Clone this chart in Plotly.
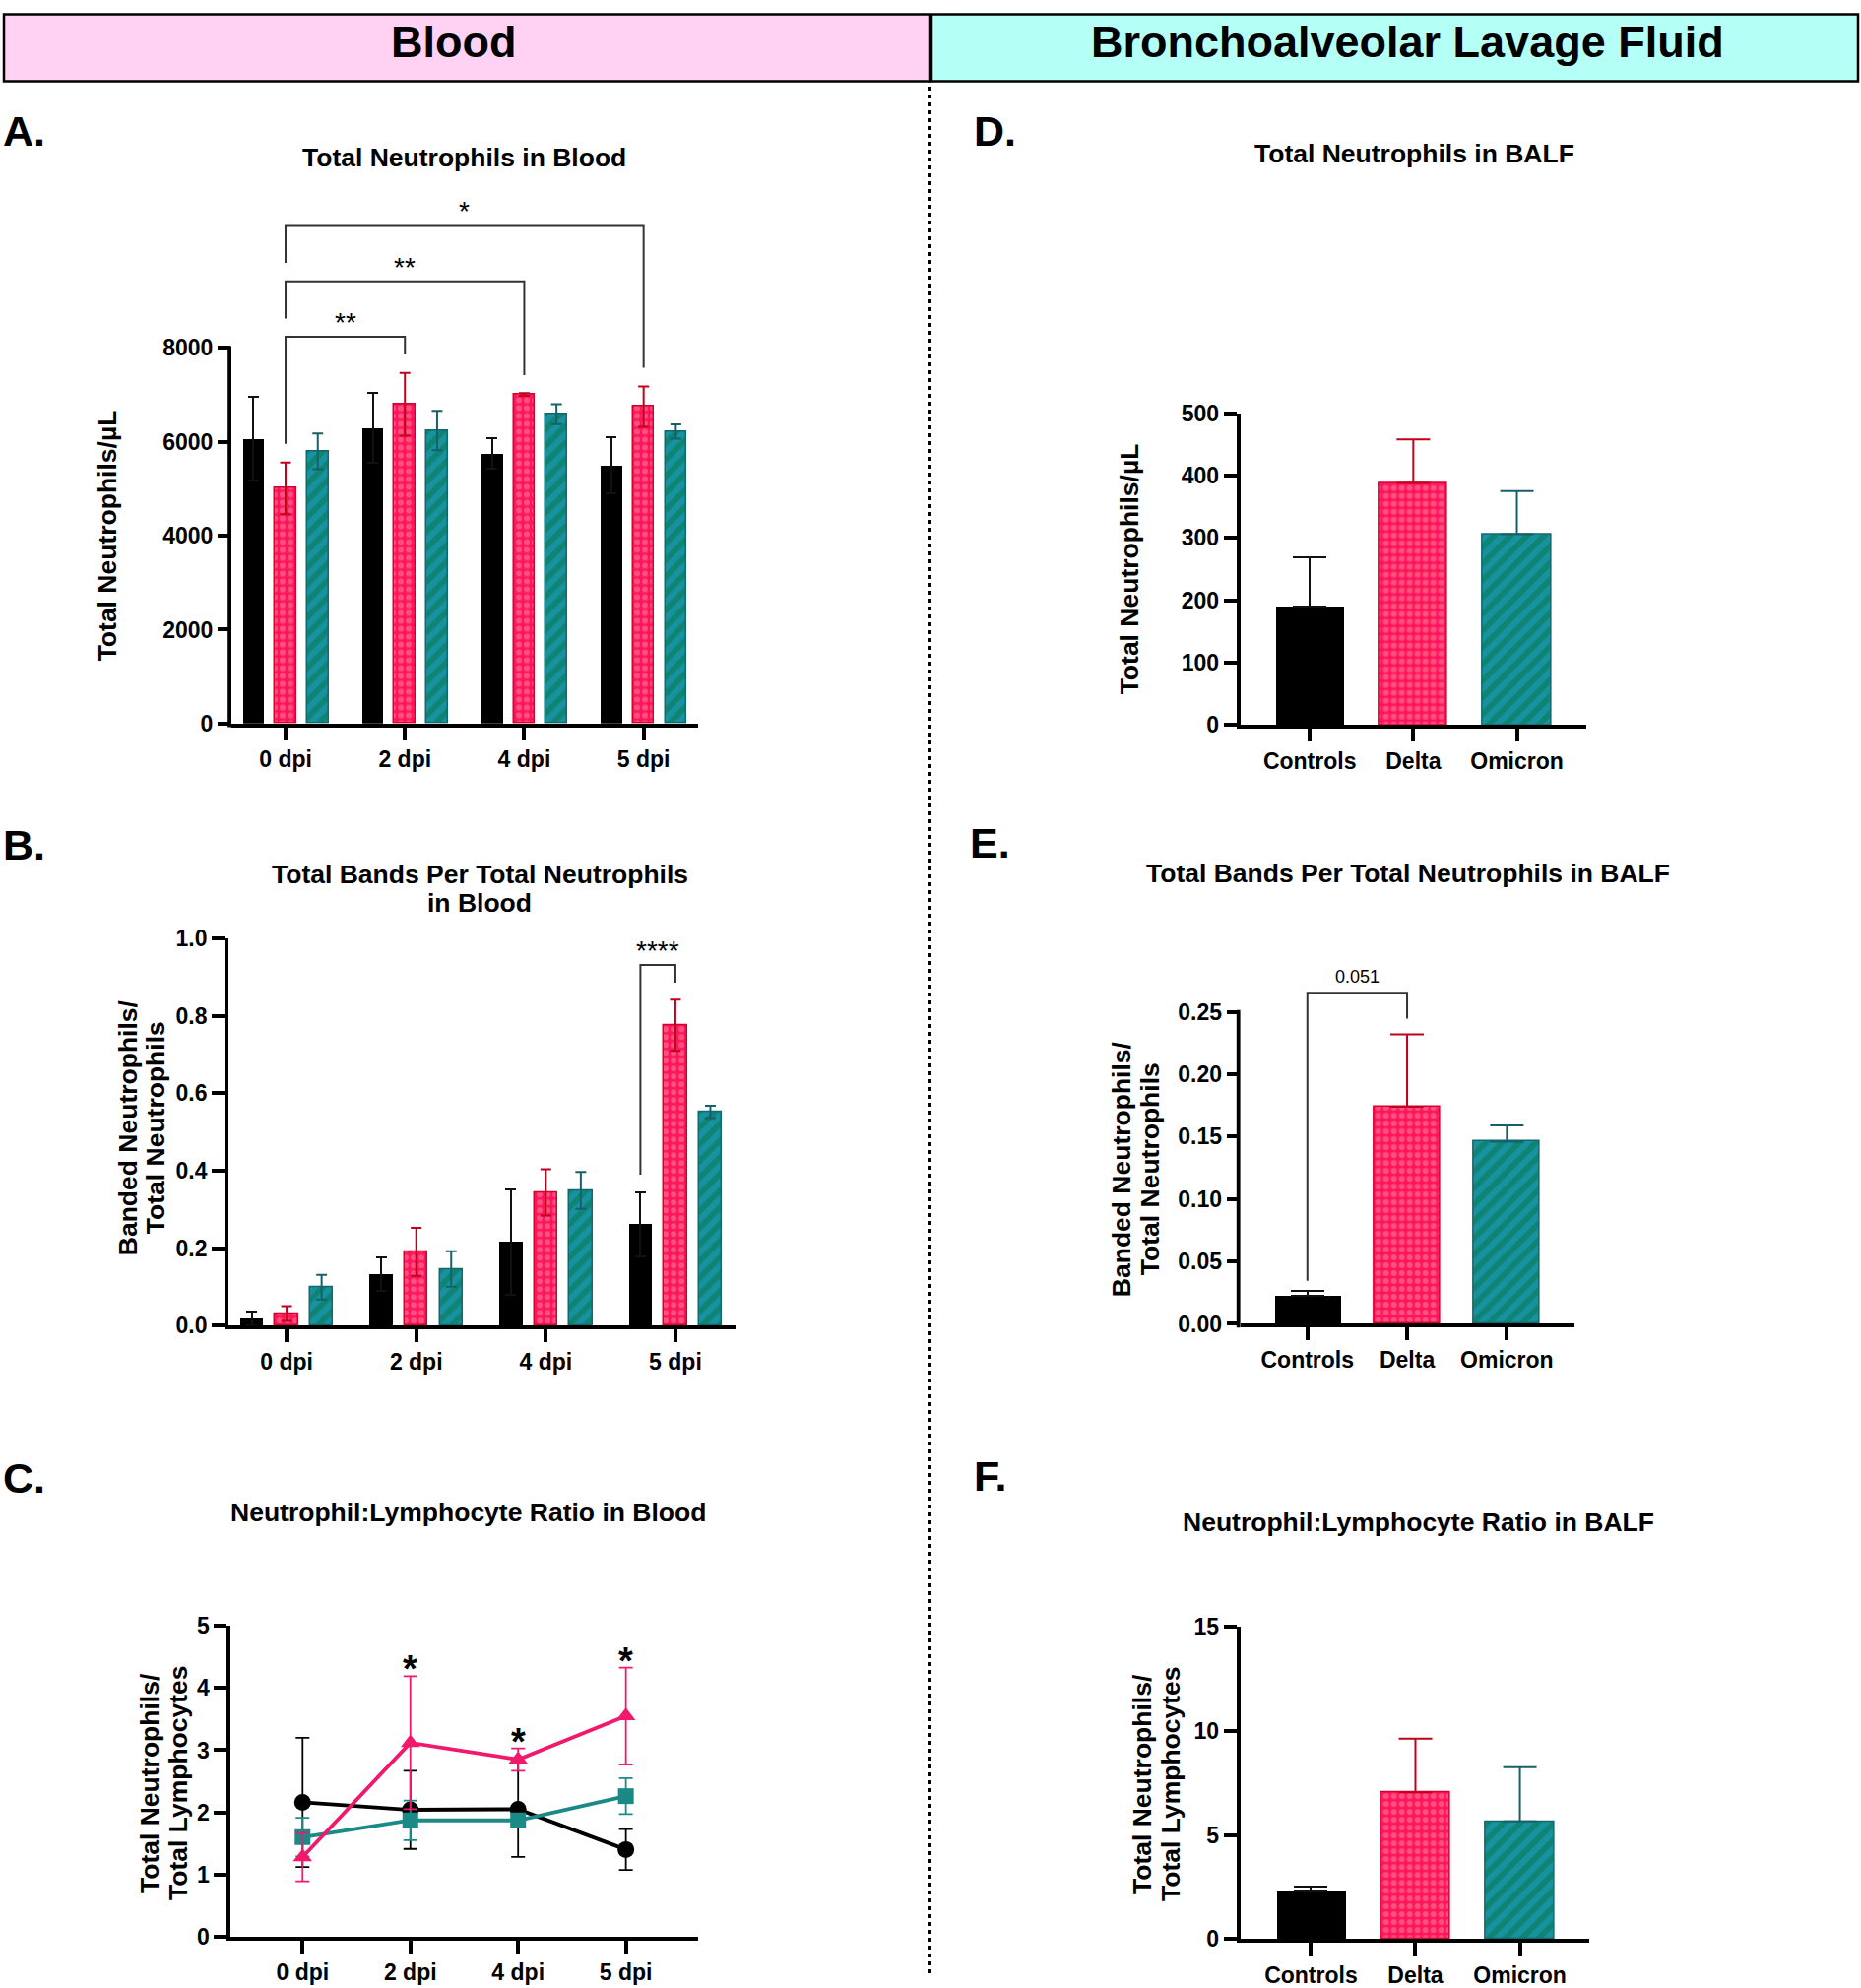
import plotly.graph_objects as go

W, H = 1890, 2019
FONT = "Liberation Sans"

# ---------------- data ----------------
time_labels = ["0 dpi", "2 dpi", "4 dpi", "5 dpi"]
group_labels = ["Controls", "Delta", "Omicron"]

# A. Total neutrophils in blood (cells/uL)
a_controls = [6070, 6300, 5750, 5510]
a_controls_err = [890, 740, 330, 600]
a_delta = [5010, 6800, 7010, 6750]
a_delta_err = [550, 670, 30, 430]
a_omicron = [5800, 6240, 6590, 6220]
a_omicron_err = [380, 420, 210, 150]
a_tickvals = [0, 2000, 4000, 6000, 8000]
a_ticktext = ["0", "2000", "4000", "6000", "8000"]
# brackets: from category, to category, left leg end, bar height, right leg end, label
a_brackets = [(0, 1, 5960, 8240, 7860, "**"),
              (0, 2, 8630, 9420, 7420, "**"),
              (0, 3, 9810, 10600, 7580, "*")]

# B. Banded / total neutrophils in blood
b_controls = [0.018, 0.133, 0.215, 0.261]
b_controls_err = [0.018, 0.043, 0.137, 0.082]
b_delta = [0.031, 0.190, 0.344, 0.776]
b_delta_err = [0.019, 0.062, 0.060, 0.066]
b_omicron = [0.099, 0.146, 0.349, 0.552]
b_omicron_err = [0.032, 0.046, 0.048, 0.016]
b_tickvals = [0.0, 0.2, 0.4, 0.6, 0.8, 1.0]
b_ticktext = ["0.0", "0.2", "0.4", "0.6", "0.8", "1.0"]
b_bracket = (0.390, 0.932, 0.886, "****")

# C. Neutrophil:lymphocyte ratio in blood
c_controls = [2.16, 2.04, 2.05, 1.40]
c_controls_err = [1.04, 0.63, 0.77, 0.33]
c_omicron = [1.60, 1.87, 1.87, 2.26]
c_omicron_err = [0.31, 0.32, 0.08, 0.29]
c_delta = [1.28, 3.12, 2.85, 3.55]
c_delta_err = [0.39, 1.07, 0.18, 0.78]
c_sig = [False, True, True, True]
c_tickvals = [0, 1, 2, 3, 4, 5]
c_ticktext = ["0", "1", "2", "3", "4", "5"]

# D. Total neutrophils in BALF
d_values = [190, 388, 306]
d_err = [79, 70, 69]
d_tickvals = [0, 100, 200, 300, 400, 500]
d_ticktext = ["0", "100", "200", "300", "400", "500"]

# E. Banded / total neutrophils in BALF
e_values = [0.0226, 0.174, 0.146]
e_err = [0.0038, 0.058, 0.013]
e_tickvals = [0.0, 0.05, 0.10, 0.15, 0.20, 0.25]
e_ticktext = ["0.00", "0.05", "0.10", "0.15", "0.20", "0.25"]
e_bracket = (0.0345, 0.2654, 0.2447, "0.051")

# F. Neutrophil:lymphocyte ratio in BALF
f_values = [2.32, 7.05, 5.65]
f_err = [0.22, 2.58, 2.60]
f_tickvals = [0, 5, 10, 15]
f_ticktext = ["0", "5", "10", "15"]

# ---------------- styles ----------------
BLACK = "#000000"
PINK_DARK = "#ff1460"
PINK_LIGHT = "#ff8d94"
PINK_EDGE = "#d6002c"
PINK_ERR = "#c0001c"
PINK_LINE = "#f2196d"
TEAL_BG = "#0f8475"
TEAL_FG = "#1fa2cc"
TEAL_EDGE = "#136870"
TEAL_ERR = "#17606a"
TEAL_LINE = "#1b8a86"
BRK = "#333333"

LW = 3.8
tickfont = dict(family=FONT, size=23, color="black", weight="bold")

# the photographed page shows a slight vertical offset/scale; compensate it
V_OFF, V_SCALE = 13.5, 0.9864


def px2x(px):
    return px / W


def px2y(py):
    return 1 - ((py - V_OFF) / V_SCALE) / H


# panel geometry in pixels (target picture coordinates)
panels = {
    "A": dict(xl=235, xr=709.4, xrange=[-0.454, 3.46], y0=735.5, yref_px=354, yref=8000, ymax=11500),
    "B": dict(xl=232, xr=747.4, xrange=[-0.449, 3.467], y0=1347, yref_px=954, yref=1.0, ymax=1.0),
    "C": dict(xl=234.3, xr=709.3, xrange=[-0.667, 3.673], y0=1967.7, yref_px=1652.3, yref=5, ymax=5),
    "D": dict(xl=1259.6, xr=1611, xrange=[-0.671, 2.67], y0=737, yref_px=420.3, yref=500, ymax=500),
    "E": dict(xl=1259.6, xr=1599, xrange=[-0.673, 2.678], y0=1345.3, yref_px=1028.5, yref=0.25, ymax=0.29),
    "F": dict(xl=1259.6, xr=1614, xrange=[-0.677, 2.664], y0=1970.3, yref_px=1653.1, yref=15, ymax=15),
}
axis_ids = {"A": "", "B": "2", "C": "3", "D": "4", "E": "5", "F": "6"}
ticks_y = {"A": (a_tickvals, a_ticktext), "B": (b_tickvals, b_ticktext), "C": (c_tickvals, c_ticktext),
           "D": (d_tickvals, d_ticktext), "E": (e_tickvals, e_ticktext), "F": (f_tickvals, f_ticktext)}
manual_yline = {"A", "E"}

fig = go.Figure()
layout = dict(width=W, height=H, margin=dict(l=0, r=0, t=0, b=0),
              paper_bgcolor="white", plot_bgcolor="white", showlegend=False,
              bargap=0)
shapes = []
annotations = []

for name, p in panels.items():
    sid = axis_ids[name]
    ytop = p["y0"] - p["ymax"] * (p["y0"] - p["yref_px"]) / p["yref"]
    cats = time_labels if name in "ABC" else group_labels
    layout["xaxis" + sid] = dict(
        domain=[px2x(p["xl"]), px2x(p["xr"])], range=p["xrange"], anchor="y" + sid,
        tickvals=list(range(len(cats))), ticktext=cats, showgrid=False, zeroline=False,
        showline=True, linecolor="black", linewidth=LW, ticks="outside", ticklen=13,
        tickwidth=LW, tickcolor="black", tickfont=tickfont, fixedrange=True)
    tv, tt = ticks_y[name]
    layout["yaxis" + sid] = dict(
        domain=[px2y(p["y0"]), px2y(ytop)], range=[0, p["ymax"]], anchor="x" + sid,
        tickvals=tv, ticktext=tt, showgrid=False, zeroline=False,
        showline=name not in manual_yline, linecolor="black", linewidth=LW,
        ticks="outside", ticklen=13, tickwidth=LW, tickcolor="black",
        tickfont=tickfont, fixedrange=True)
    if name in manual_yline:
        top_px = p["y0"] - tv[-1] * (p["y0"] - p["yref_px"]) / p["yref"]
        shapes.append(dict(type="line", xref="paper", yref="paper",
                           x0=px2x(p["xl"] - LW / 2), x1=px2x(p["xl"] - LW / 2),
                           y0=px2y(p["y0"] + LW), y1=px2y(top_px - LW / 2),
                           line=dict(color="black", width=LW)))

pink_marker = dict(color=PINK_DARK, line=dict(color=PINK_EDGE, width=1.5),
                   pattern=dict(shape=".", fgcolor=PINK_LIGHT, bgcolor=PINK_DARK, size=8, solidity=0.45))
teal_marker = dict(color=TEAL_BG, line=dict(color=TEAL_EDGE, width=1.5),
                   pattern=dict(shape="/", fgcolor=TEAL_FG, bgcolor=TEAL_BG, size=12, solidity=0.5))
black_marker = dict(color=BLACK, line=dict(color=BLACK, width=0))


def err(arr, color, width, up_only=False):
    d = dict(type="data", array=arr, color=color, thickness=2, width=width, visible=True)
    if up_only:
        d["symmetric"] = False
        d["arrayminus"] = [0] * len(arr)
    return d


# ---- grouped bars (A, B) ----
BW = 0.178
OFF = 0.27
idx_t = list(range(len(time_labels)))
for name, sets in [("A", [(a_controls, a_controls_err), (a_delta, a_delta_err), (a_omicron, a_omicron_err)]),
                   ("B", [(b_controls, b_controls_err), (b_delta, b_delta_err), (b_omicron, b_omicron_err)])]:
    sid = axis_ids[name]
    specs = [(black_marker, "#111111", -OFF), (pink_marker, PINK_ERR, 0.0), (teal_marker, TEAL_ERR, OFF)]
    for (vals, errs), (mk, ec, off), g in zip(sets, specs, group_labels):
        fig.add_trace(go.Bar(x=idx_t, y=vals, width=BW, offset=off - BW / 2, marker=mk,
                             error_y=err(errs, ec, 5.5), name=g, hoverinfo="skip",
                             xaxis="x" + sid, yaxis="y" + sid))

# ---- brackets A ----
for (i0, i1, yl, yb, yr, lab) in a_brackets:
    fig.add_trace(go.Scatter(x=[i0, i0, i1, i1], y=[yl, yb, yb, yr], mode="lines",
                             line=dict(color=BRK, width=2), hoverinfo="skip", xaxis="x", yaxis="y"))
    annotations.append(dict(x=(i0 + i1) / 2, y=yb, xref="x", yref="y", text=lab, showarrow=False,
                            yanchor="bottom", yshift=-3, font=dict(family=FONT, size=28, color="black")))

# ---- bracket B ----
yl, yb, yr, lab = b_bracket
fig.add_trace(go.Scatter(x=[3 - OFF, 3 - OFF, 3, 3], y=[yl, yb, yb, yr], mode="lines",
                         line=dict(color=BRK, width=2), hoverinfo="skip", xaxis="x2", yaxis="y2"))
annotations.append(dict(x=3 - OFF / 2, y=yb, xref="x2", yref="y2", text=lab, showarrow=False,
                        yanchor="bottom", yshift=-3, font=dict(family=FONT, size=28, color="black")))

# ---- C lines ----
for vals, errs, col, sym, ms in [(c_controls, c_controls_err, BLACK, "circle", 17),
                                 (c_omicron, c_omicron_err, TEAL_LINE, "square", 16),
                                 (c_delta, c_delta_err, PINK_LINE, "triangle-up", 17)]:
    fig.add_trace(go.Scatter(x=idx_t, y=vals, mode="lines+markers",
                             line=dict(color=col, width=3.8),
                             marker=dict(symbol=sym, size=ms, color=col),
                             error_y=dict(type="data", array=errs, color=col, thickness=1.8, width=7),
                             cliponaxis=False, hoverinfo="skip", xaxis="x3", yaxis="y3"))
for i, s in enumerate(c_sig):
    if s:
        annotations.append(dict(x=i, y=c_delta[i] + c_delta_err[i], xref="x3", yref="y3", text="*",
                                showarrow=False, yanchor="bottom", yshift=-16,
                                font=dict(family=FONT, size=38, color="black", weight="bold")))

# ---- single bars (D, E, F) ----
idx_g = list(range(len(group_labels)))
for name, vals, errs in [("D", d_values, d_err), ("E", e_values, e_err), ("F", f_values, f_err)]:
    sid = axis_ids[name]
    for i, (mk, ec) in enumerate([(black_marker, "#111111"), (pink_marker, PINK_ERR), (teal_marker, TEAL_ERR)]):
        fig.add_trace(go.Bar(x=[idx_g[i]], y=[vals[i]], width=0.66, marker=mk,
                             error_y=err([errs[i]], ec, 17, up_only=True), hoverinfo="skip",
                             xaxis="x" + sid, yaxis="y" + sid))

yl, yb, yr, lab = e_bracket
fig.add_trace(go.Scatter(x=[0, 0, 1, 1], y=[yl, yb, yb, yr], mode="lines",
                         line=dict(color=BRK, width=2), hoverinfo="skip", xaxis="x5", yaxis="y5"))
annotations.append(dict(x=0.5, y=yb, xref="x5", yref="y5", text=lab, showarrow=False,
                        yanchor="bottom", yshift=4, font=dict(family=FONT, size=18, color="black")))

# ---------------- titles / labels ----------------
title_font = dict(family=FONT, size=26.5, color="black", weight="bold")
titles = [("Total Neutrophils in Blood", 471, 161),
          ("Total Bands Per Total Neutrophils", 487, 889),
          ("in Blood", 487, 918),
          ("Neutrophil:Lymphocyte Ratio in Blood", 476, 1537),
          ("Total Neutrophils in BALF", 1436, 157),
          ("Total Bands Per Total Neutrophils in BALF", 1430, 888),
          ("Neutrophil:Lymphocyte Ratio in BALF", 1440, 1547)]
for t, x, y in titles:
    annotations.append(dict(x=px2x(x), y=px2y(y), xref="paper", yref="paper", text=t, showarrow=False,
                            xanchor="center", yanchor="middle", font=title_font))

ytitles = [("Total Neutrophils/µL", 109, 545),
           ("Banded Neutrophils/", 130, 1146), ("Total Neutrophils", 158, 1146),
           ("Total Neutrophils/", 152, 1812), ("Total Lymphocytes", 181, 1812),
           ("Total Neutrophils/µL", 1147, 579),
           ("Banded Neutrophils/", 1139, 1188), ("Total Neutrophils", 1168, 1188),
           ("Total Neutrophils/", 1160, 1813), ("Total Lymphocytes", 1189, 1813)]
for t, x, y in ytitles:
    annotations.append(dict(x=px2x(x), y=px2y(y), xref="paper", yref="paper", text=t, showarrow=False,
                            textangle=-90, xanchor="center", yanchor="middle",
                            font=dict(family=FONT, size=26.5, color="black", weight="bold")))

letter_font = dict(family=FONT, size=43, color="black", weight="bold")
letters = [("A.", 24, 134), ("B.", 24, 859), ("C.", 24, 1502),
           ("D.", 1010, 134), ("E.", 1005, 857), ("F.", 1005, 1500)]
for t, x, y in letters:
    annotations.append(dict(x=px2x(x), y=px2y(y), xref="paper", yref="paper", text=t, showarrow=False,
                            xanchor="center", yanchor="middle", font=letter_font))

# header boxes (top edge kept on the page)
box_top = min(px2y(2), 1 - 1.5 / H)
shapes.append(dict(type="rect", xref="paper", yref="paper", x0=px2x(4), x1=px2x(944),
                   y0=px2y(83), y1=box_top, fillcolor="#ffd1f3", line=dict(color="black", width=2.5),
                   layer="below"))
shapes.append(dict(type="rect", xref="paper", yref="paper", x0=px2x(946), x1=px2x(1887),
                   y0=px2y(83), y1=box_top, fillcolor="#b4fff6", line=dict(color="black", width=2.5),
                   layer="below"))
header_font = dict(family=FONT, size=45, color="black", weight="bold")
for t, x in [("Blood", 460), ("Bronchoalveolar Lavage Fluid", 1429)]:
    annotations.append(dict(x=px2x(x), y=px2y(43), xref="paper", yref="paper", text=t, showarrow=False,
                            xanchor="center", yanchor="middle", font=header_font))

# dotted divider
shapes.append(dict(type="line", xref="paper", yref="paper", x0=px2x(944), x1=px2x(944),
                   y0=0, y1=px2y(84), line=dict(color="black", width=4, dash="dot")))

layout["shapes"] = shapes
layout["annotations"] = annotations
fig.update_layout(**layout)
fig.write_html("out.html", config={"displayModeBar": False},
               post_script="document.body.style.margin='0px';document.documentElement.style.overflow='hidden';")
